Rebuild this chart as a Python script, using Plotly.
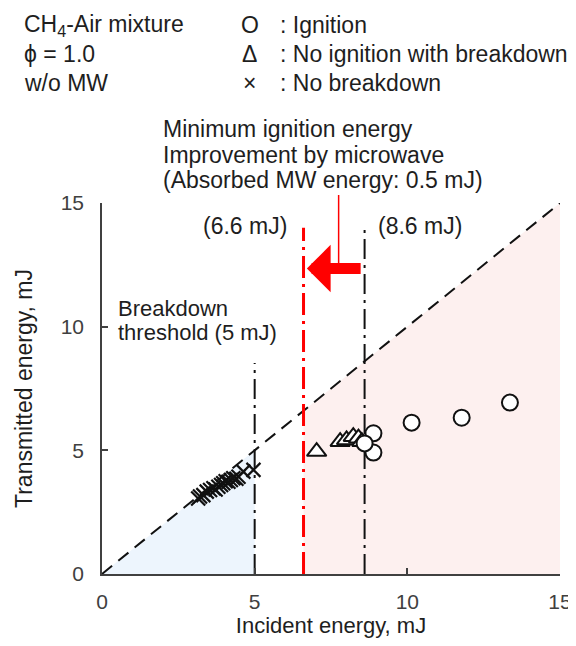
import plotly.graph_objects as go

# ---------------- data ----------------
ign_x = [8.89, 8.89, 8.60, 10.14, 11.78, 13.36]
ign_y = [5.69, 4.91, 5.28, 6.12, 6.32, 6.93]

noign_x = [7.03, 7.80, 8.01, 8.23, 8.40, 8.51]
noign_y = [4.95, 5.35, 5.42, 5.55, 5.49, 5.35]

nobd_x = [3.15, 3.21, 3.32, 3.43, 3.54, 3.65, 3.72, 3.81, 3.90, 3.97, 4.05,
          4.14, 4.22, 4.30, 4.40, 4.47, 4.63, 4.96]
nobd_y = [3.05, 3.13, 3.19, 3.33, 3.40, 3.47, 3.42, 3.53, 3.60, 3.67, 3.75,
          3.73, 3.80, 3.87, 3.85, 3.93, 4.14, 4.21]

breakdown_threshold = 5.0
mie_with_mw = 6.6
mie_without_mw = 8.6
axis_max = 15
tick_vals = [0, 5, 10, 15]

# ---------------- layout helpers ----------------
# the page body adds an 8 px offset, so the figure is made smaller to fit the window
OFF = 8
W, H = 576 - OFF, 646 - 2 * OFF
# plot box in reference-page pixels: x 102..560, y 203..574
L, R, T = 102 - OFF, 16, 203 - OFF
B = H - (574 - OFF)
PW, PH = W - L - R, H - T - B
FONT = "Liberation Sans, Arial, sans-serif"
TXT = "#1e1e1e"


def px_x(px):
    return (px - 102) / PW


def px_y(py):
    return (574 - py) / PH


fig = go.Figure()

# shaded regions
fig.add_shape(type="path",
              path=f"M 0,0 L {breakdown_threshold},0 L {breakdown_threshold},{breakdown_threshold} Z",
              xref="x", yref="y", fillcolor="#edf5fd", line_width=0, layer="below")
fig.add_shape(type="path",
              path=f"M {mie_with_mw},0 L {axis_max},0 L {axis_max},{axis_max} L {mie_with_mw},{mie_with_mw} Z",
              xref="x", yref="y", fillcolor="#fdf0ef", line_width=0, layer="below")

# diagonal y = x
fig.add_shape(type="line", x0=0, y0=0, x1=axis_max, y1=axis_max, xref="x", yref="y",
              line=dict(color="#111", width=2, dash="13px,8px"), layer="below")

# vertical reference lines
fig.add_shape(type="line", x0=breakdown_threshold, x1=breakdown_threshold, y0=0, y1=8.53,
              xref="x", yref="y", line=dict(color="#111", width=2, dash="20px,6px,3px,6px"), layer="below")
fig.add_shape(type="line", x0=mie_without_mw, x1=mie_without_mw, y0=0, y1=14.0,
              xref="x", yref="y", line=dict(color="#111", width=2, dash="20px,6px,3px,6px"), layer="below")
fig.add_shape(type="line", x0=mie_with_mw, x1=mie_with_mw, y0=0, y1=14.0,
              xref="x", yref="y", line=dict(color="#ff0000", width=3, dash="22px,6px,3px,6px"), layer="below")

# thin red leader line from the text to the arrow
arrow_y = 12.35
fig.add_shape(type="line", x0=7.75 / axis_max, x1=7.75 / axis_max, y0=px_y(195), y1=arrow_y / axis_max,
              xref="paper", yref="paper", line=dict(color="#ff0000", width=1.5))

# thick red arrow (8.6 -> 6.6)
fig.add_annotation(x=6.71, y=arrow_y, ax=8.52, ay=arrow_y, xref="x", yref="y", axref="x", ayref="y",
                   text="", showarrow=True, arrowhead=1, arrowwidth=11, arrowsize=0.72,
                   arrowcolor="#ff0000", standoff=0, startstandoff=0)

# data traces
fig.add_trace(go.Scatter(x=nobd_x, y=nobd_y, mode="markers", name="No breakdown",
                         marker=dict(symbol="x-thin", size=14, line=dict(color="#111", width=2.2))))
fig.add_trace(go.Scatter(x=noign_x, y=noign_y, mode="markers", name="No ignition with breakdown",
                         marker=dict(symbol="triangle-up", size=17, color="white",
                                     line=dict(color="#111", width=2))))
fig.add_trace(go.Scatter(x=ign_x, y=ign_y, mode="markers", name="Ignition",
                         marker=dict(symbol="circle", size=16, color="white",
                                     line=dict(color="#111", width=2))))


def txt(text, x, y, xanchor="left", size=23, color=TXT):
    fig.add_annotation(text=text, x=px_x(x), y=px_y(y), xref="paper", yref="paper",
                       xanchor=xanchor, yanchor="middle", showarrow=False, borderpad=0,
                       font=dict(family=FONT, size=size, color=color))


# top-left condition text
txt("CH<sub>4</sub>-Air mixture", 23, 25)
txt("ϕ = 1.0", 23, 54)
txt("w/o MW", 23, 83)

# legend key (text symbols)
txt("O", 249.5, 25, xanchor="center")
txt("Δ", 249.5, 54, xanchor="center")
txt("×", 249.5, 83, xanchor="center")
txt(": Ignition", 279, 25)
txt(": No ignition with breakdown", 279, 54)
txt(": No breakdown", 279, 83)

# MIE annotation text
txt("Minimum ignition energy", 162, 129.5)
txt("Improvement by microwave", 162, 155)
txt("(Absorbed MW energy: 0.5 mJ)", 162, 180)
txt("(6.6 mJ)", 288, 226, xanchor="right")
txt("(8.6 mJ)", 377, 226)
txt("Breakdown", 117, 308.5, size=22)
txt("threshold (5 mJ)", 117, 332, size=22)

axis_common = dict(range=[0, axis_max], tickvals=tick_vals, ticks="inside", ticklen=6,
                   tickcolor="#404040", tickwidth=1.5, showline=True, linecolor="#404040",
                   linewidth=1.5, showgrid=False, zeroline=False,
                   tickfont=dict(family=FONT, size=21, color="#404040"))

fig.update_layout(
    width=W, height=H,
    margin=dict(l=L, r=R, t=T, b=B, autoexpand=False),
    paper_bgcolor="white", plot_bgcolor="white",
    showlegend=False,
    font=dict(family=FONT, color=TXT),
    xaxis=dict(**axis_common, ticklabelstandoff=8,
               title=dict(text="Incident energy, mJ", standoff=10,
                          font=dict(family=FONT, size=22, color=TXT))),
    yaxis=dict(**axis_common, ticklabelstandoff=12,
               title=dict(text="Transmitted energy, mJ", standoff=22,
                          font=dict(family=FONT, size=23, color=TXT))),
)

fig.write_html("out.html")
